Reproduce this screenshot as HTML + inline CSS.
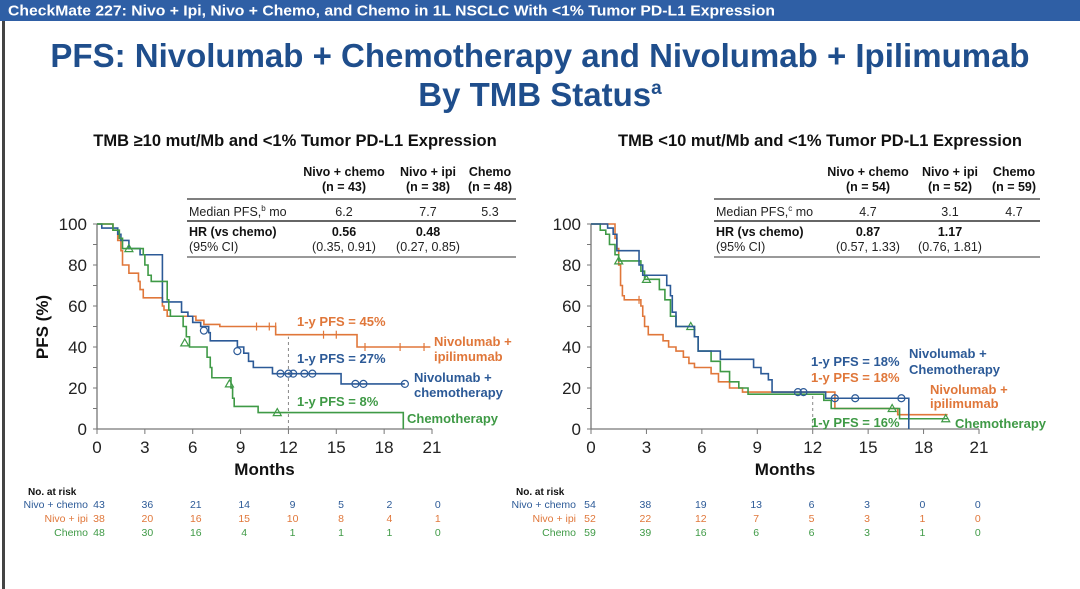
<!DOCTYPE html>
<html><head><meta charset="utf-8"><style>
html,body{margin:0;padding:0;background:#fff;}
svg{display:block;font-family:"Liberation Sans",Arial,sans-serif;}
</style></head><body>
<svg id="s" width="1080" height="589" viewBox="0 0 1080 589" xmlns="http://www.w3.org/2000/svg">
<rect x="0" y="0" width="1080" height="589" fill="#fff"/>
<rect x="0" y="0" width="1080" height="21" fill="#2f5fa5"/>
<text x="8" y="15.5" font-size="15" font-weight="bold" fill="#fff" textLength="767" lengthAdjust="spacingAndGlyphs">CheckMate 227: Nivo + Ipi, Nivo + Chemo, and Chemo in 1L NSCLC With &lt;1% Tumor PD-L1 Expression</text>
<rect x="2" y="21" width="3" height="568" fill="#444"/>
<text x="540" y="67" font-size="33" font-weight="bold" fill="#1f4e8c" text-anchor="middle">PFS: Nivolumab + Chemotherapy and Nivolumab + Ipilimumab</text>
<text x="540" y="106" font-size="33" font-weight="bold" fill="#1f4e8c" text-anchor="middle">By TMB Status<tspan font-size="19" dy="-12">a</tspan></text>
<g id="L"></g><g id="R"></g>
</svg>
<script>
const NS='http://www.w3.org/2000/svg';
const BLUE='#2c5a97',ORANGE='#e0773a',GREEN='#3f9a46';
// ---- Left chart data (TMB >=10) ----
const L_blueT=[0,0.3,1.3,1.5,2.0,2.7,4.1,4.2,5.3,5.7,6.0,6.5,7.0,7.1,8.8,9.2,9.5,9.8,11.0,15.3,19.3];
const L_blueV=[100,98,95,92,88,85,62,62,57,55,52,50,47,43,40,37,33,30,27,22,22];
const L_blueC=[[6.7,48],[8.8,38],[11.5,27],[12,27],[12.3,27],[13,27],[13.5,27],[16.2,22],[16.7,22],[19.3,22]];
const L_oraT=[0,1.0,1.3,1.5,1.6,2.0,2.6,2.7,2.9,4.1,4.2,4.4,6.2,6.7,7.7,11.2,16.3,20.9];
const L_oraV=[100,97,92,87,80,76,72,68,64,60,58,55,53,51,50,46,40,40];
const L_oraC=[[10,50],[10.8,50],[11.2,50],[14.2,46],[15,46],[16.8,40],[19,40],[20.5,40]];
const L_grnT=[0,1.0,1.4,1.6,2.9,3.0,3.2,3.4,4.4,4.5,4.6,5.4,5.6,5.8,6.9,7.1,7.2,8.4,8.5,8.6,10.1,19.2,19.2];
const L_grnV=[100,97,93,88,85,80,75,72,63,58,55,50,45,40,35,30,25,20,15,11,8,0,0];
const L_grnC=[[2.0,88],[5.5,42],[8.3,22],[11.3,8]];
// ---- Right chart data (TMB <10) ----
const R_blueT=[0,0.9,1.2,1.4,2.6,2.8,4.1,4.3,4.4,4.6,5.6,5.8,7.0,8.8,9.2,9.6,9.8,12.7,17.2,17.2];
const R_blueV=[100,98,95,87,80,75,70,65,57,50,45,38,34,30,27,24,18,15,0,0];
const R_blueC=[[11.2,18],[11.5,18],[13.2,15],[14.3,15],[16.8,15]];
const R_oraT=[0,1.3,1.4,1.5,1.6,1.7,1.8,2.7,2.8,2.9,3.1,3.9,4.2,4.6,5.0,5.3,5.6,6.5,6.9,7.5,8.2,13.2,16.6,19.3];
const R_oraV=[100,93,88,80,70,65,63,60,55,50,46,43,40,38,35,32,30,27,23,20,18,10,7,7];
const R_oraC=[[2.6,63]];
const R_grnT=[0,0.5,0.8,1.0,1.3,1.5,2.7,2.9,3.7,4.0,4.3,4.6,5.6,5.8,6.5,7.0,7.5,8.0,8.5,12.6,13.0,16.7,19.3];
const R_grnV=[100,97,95,90,85,82,77,73,68,63,55,50,45,38,33,28,23,20,17,14,10,5,5];
const R_grnC=[[1.5,82],[3.0,73],[5.4,50],[16.3,10],[19.2,5]];
const xTicks=[0,3,6,9,12,15,18,21];
const yTicks=[0,20,40,60,80,100];
const L_risk={'Nivo + chemo':[43,36,21,14,9,5,2,0],'Nivo + ipi':[38,20,16,15,10,8,4,1],'Chemo':[48,30,16,4,1,1,1,0]};
const R_risk={'Nivo + chemo':[54,38,19,13,6,3,0,0],'Nivo + ipi':[52,22,12,7,5,3,1,0],'Chemo':[59,39,16,6,6,3,1,0]};

function el(p,tag,attrs,txt){const e=document.createElementNS(NS,tag);for(const k in attrs)e.setAttribute(k,attrs[k]);if(txt!==undefined)e.textContent=txt;p.appendChild(e);return e;}

function chart(g,cfg){
  const X=m=>cfg.x0+m*(cfg.x21-cfg.x0)/21, Y=v=>cfg.y0-v*(cfg.y0-cfg.y100)/100;
  const ax=el(g,'path',{d:`M${X(0)} ${Y(100)}V${Y(0)}H${X(21)}`,stroke:'#777',fill:'none','stroke-width':1.3});
  
  for(const t of xTicks){
    el(g,'line',{x1:X(t),x2:X(t),y1:Y(0),y2:Y(0)+5,stroke:'#777'});
    const tl=el(g,'text',{x:X(t),y:Y(0)+24,'font-size':17,'text-anchor':'middle',fill:'#222'},t);
    
  }
  for(let v=0;v<=100;v+=10)el(g,'line',{x1:X(0)-4,x2:X(0),y1:Y(v),y2:Y(v),stroke:'#777'});
  for(const t of yTicks){
    const tl=el(g,'text',{x:X(0)-10,y:Y(t)+6,'font-size':17,'text-anchor':'end',fill:'#222'},t);
    
  }
  const xt=el(g,'text',{x:X(10.5)+(cfg.dxM||0),y:Y(0)+46,'font-size':17,'font-weight':'bold','text-anchor':'middle',fill:'#111'},'Months');
  
  const dl=el(g,'line',{x1:X(12),x2:X(12),y1:Y(0),y2:Y(cfg.dashTo),stroke:'#888','stroke-dasharray':'3,3'});
  
  for(const s of cfg.series){
    let d=`M${X(s.t[0])} ${Y(s.v[0])}`;
    for(let i=1;i<s.t.length;i++){d+=`H${X(s.t[i])}V${Y(s.v[i])}`;}
    const p=el(g,'path',{d,stroke:s.c,fill:'none','stroke-width':1.6});
    
    for(const [m,v] of s.cen){
      let c;
      if(s.mk==='o')c=el(g,'circle',{cx:X(m),cy:Y(v),r:3.5,fill:'none',stroke:s.c,'stroke-width':1.2});
      else if(s.mk==='^')c=el(g,'path',{d:`M${X(m)} ${Y(v)-4}l4 7h-8z`,fill:'none',stroke:s.c,'stroke-width':1.2});
      else c=el(g,'line',{x1:X(m),x2:X(m),y1:Y(v)-4,y2:Y(v)+4,stroke:s.c,'stroke-width':1.2});
      
    }
  }
}
function table(g,t){
  const cols=t.cols;
  for(let i=0;i<3;i++){
    el(g,'text',{x:cols[i],y:t.y+1,'font-size':12.5,'font-weight':'bold','text-anchor':'middle',fill:'#111'},t.hd[i]);
    el(g,'text',{x:cols[i],y:t.y+16,'font-size':12.5,'font-weight':'bold','text-anchor':'middle',fill:'#111'},t.n[i]);
    el(g,'text',{x:cols[i],y:t.y+41,'font-size':12.5,'text-anchor':'middle',fill:'#222'},t.med[i]);
  }
  for(let i=0;i<2;i++){
    el(g,'text',{x:cols[i],y:t.y+61,'font-size':12.5,'font-weight':'bold','text-anchor':'middle',fill:'#111'},t.hr[i]);
    el(g,'text',{x:cols[i],y:t.y+76,'font-size':12.5,'text-anchor':'middle',fill:'#222'},t.ci[i]);
  }
  el(g,'line',{x1:t.x1,x2:t.x2,y1:t.y+24,y2:t.y+24,stroke:'#333','stroke-width':1.2});
  el(g,'line',{x1:t.x1,x2:t.x2,y1:t.y+46,y2:t.y+46,stroke:'#333','stroke-width':1.5});
  el(g,'line',{x1:t.x1,x2:t.x2,y1:t.y+82,y2:t.y+82,stroke:'#333','stroke-width':1});
  const m=el(g,'text',{x:t.x1+2,y:t.y+41,'font-size':12.5,fill:'#222'});m.innerHTML=`Median PFS,<tspan font-size="8" dy="-5">${t.sup}</tspan><tspan dy="5"> mo</tspan>`;
  el(g,'text',{x:t.x1+2,y:t.y+61,'font-size':12.5,'font-weight':'bold',fill:'#111'},'HR (vs chemo)');
  el(g,'text',{x:t.x1+2,y:t.y+76,'font-size':12.5,fill:'#222'},'(95% CI)');
}
function risk(g,r){
  el(g,'text',{x:r.lx-60,y:495,'font-size':10,'font-weight':'bold',fill:'#111'},'No. at risk');
  const cs=[BLUE,ORANGE,GREEN];let i=0;
  for(const k in r.data){
    const y=508+i*14;
    el(g,'text',{x:r.lx,y,'font-size':10.5,'text-anchor':'end',fill:cs[i]},k);
    r.data[k].forEach((v,j)=>{const t=el(g,'text',{x:r.x0+j*r.dx,y,'font-size':10.5,'text-anchor':'middle',fill:cs[i]},v);});
    i++;
  }
}
function lab(g,x,y,txt,c,name){const t=el(g,'text',{x,y,'font-size':13,'font-weight':'bold',fill:c},txt);}

const L=document.getElementById('L');

el(L,'text',{x:295,y:146,'font-size':16.5,'font-weight':'bold','text-anchor':'middle',fill:'#111'},'TMB ≥10 mut/Mb and <1% Tumor PD-L1 Expression');
const yl=el(L,'text',{x:0,y:0,'font-size':17,'font-weight':'bold','text-anchor':'middle',fill:'#111',transform:'translate(48,327) rotate(-90)'},'PFS (%)');

table(L,{x1:187,x2:516,y:175,cols:[344,428,490],hd:['Nivo + chemo','Nivo + ipi','Chemo'],n:['(n = 43)','(n = 38)','(n = 48)'],med:['6.2','7.7','5.3'],hr:['0.56','0.48'],ci:['(0.35, 0.91)','(0.27, 0.85)'],sup:'b'});
chart(L,{x0:97,x21:432,y0:429,y100:224,dashTo:45,series:[
 {name:'nivo-ipi-curve',t:L_oraT,v:L_oraV,c:ORANGE,cen:L_oraC,mk:'|'},
 {name:'nivo-chemo-curve',t:L_blueT,v:L_blueV,c:BLUE,cen:L_blueC,mk:'o'},
 {name:'chemo-curve',t:L_grnT,v:L_grnV,c:GREEN,cen:L_grnC,mk:'^'}]});
lab(L,297,326,'1-y PFS = 45%',ORANGE,'left-ipi-1y-label');
lab(L,297,363,'1-y PFS = 27%',BLUE,'left-chemo-nivo-1y-label');
lab(L,297,406,'1-y PFS = 8%',GREEN,'left-chemo-1y-label');
lab(L,434,346,'Nivolumab +',ORANGE,'legend-nivo-ipi');lab(L,434,361,'ipilimumab',ORANGE,'legend-nivo-ipi-2');
lab(L,414,382,'Nivolumab +',BLUE,'legend-nivo-chemo');lab(L,414,397,'chemotherapy',BLUE,'legend-nivo-chemo-2');
lab(L,407,423,'Chemotherapy',GREEN,'legend-chemo');
risk(L,{lx:88,x0:99,dx:48.4,data:L_risk});

const R=document.getElementById('R');

el(R,'text',{x:820,y:146,'font-size':16.5,'font-weight':'bold','text-anchor':'middle',fill:'#111'},'TMB <10 mut/Mb and <1% Tumor PD-L1 Expression');
table(R,{x1:714,x2:1040,y:175,cols:[868,950,1014],hd:['Nivo + chemo','Nivo + ipi','Chemo'],n:['(n = 54)','(n = 52)','(n = 59)'],med:['4.7','3.1','4.7'],hr:['0.87','1.17'],ci:['(0.57, 1.33)','(0.76, 1.81)'],sup:'c'});
chart(R,{x0:591,x21:979,y0:429,y100:224,dashTo:18,series:[
 {name:'nivo-ipi-curve',t:R_oraT,v:R_oraV,c:ORANGE,cen:R_oraC,mk:'|'},
 {name:'chemo-curve',t:R_grnT,v:R_grnV,c:GREEN,cen:R_grnC,mk:'^'},
 {name:'nivo-chemo-curve',t:R_blueT,v:R_blueV,c:BLUE,cen:R_blueC,mk:'o'}]});
lab(R,811,366,'1-y PFS = 18%',BLUE,'right-nivo-chemo-1y-label');
lab(R,811,382,'1-y PFS = 18%',ORANGE,'right-ipi-1y-label');
lab(R,811,427,'1-y PFS = 16%',GREEN,'right-chemo-1y-label');
lab(R,909,358,'Nivolumab +',BLUE,'legend-nivo-chemo');lab(R,909,374,'Chemotherapy',BLUE,'legend-nivo-chemo-2');
lab(R,930,394,'Nivolumab +',ORANGE,'legend-nivo-ipi');lab(R,930,408,'ipilimumab',ORANGE,'legend-nivo-ipi-2');
lab(R,955,428,'Chemotherapy',GREEN,'legend-chemo');
risk(R,{lx:576,x0:590,dx:55.4,data:R_risk});
</script>
</body></html>
